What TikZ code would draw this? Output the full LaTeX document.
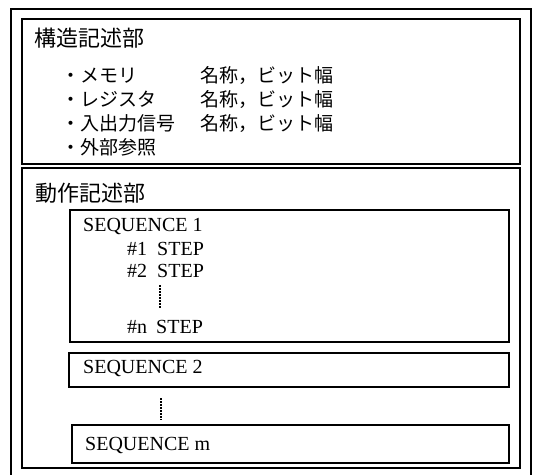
\documentclass[tikz,border=0pt]{standalone}
\usepackage{fontspec}
\setmainfont{Liberation Serif}
\newfontfamily\jpfont{Noto Sans CJK JP}
\begin{document}
\begin{tikzpicture}[x=1pt,y=-1pt,
  frame/.style={line width=1.4pt},
  jtitle/.style={anchor=base west,inner sep=0pt,font=\jpfont\fontsize{22}{22}\selectfont},
  jitem/.style={anchor=base west,inner sep=0pt,font=\jpfont\fontsize{19}{19}\selectfont},
  latin/.style={anchor=base west,inner sep=0pt,font=\fontsize{20}{20}\selectfont},
  vdots/.style={line width=1.7pt,dash pattern=on 1.5pt off 1.5pt}]
\useasboundingbox (0,0) rectangle (538,474);
% outer frame (bottom edge cut off)
\draw[frame] (11,480) -- (11,9) -- (531,9) -- (531,480);
% structure section
\draw[frame] (22,19) rectangle (520,164);
\node[jtitle] (t1) at (34,46) {構造記述部};
\node[jitem] (i1) at (61,82) {・メモリ};
\node[jitem] (i2) at (61,106) {・レジスタ};
\node[jitem] (i3) at (61,130) {・入出力信号};
\node[jitem] (i4) at (61,154) {・外部参照};
\node[jitem] (v1) at (200,82) {名称，ビット幅};
\node[jitem] (v2) at (200,106) {名称，ビット幅};
\node[jitem] (v3) at (200,130) {名称，ビット幅};
% behaviour section
\draw[frame] (22,168) rectangle (520,468);
\node[jtitle] (t2) at (35,201) {動作記述部};
% sequence 1
\draw[frame] (70,210) rectangle (509,342);
\node[latin] (s1) at (83,231) {SEQUENCE 1};
\node[latin] (st1) at (127,255) {\#1\hspace{10pt}STEP};
\node[latin] (st2) at (127,277) {\#2\hspace{10pt}STEP};
\draw[vdots] (160,285) -- (160,308);
\node[latin] (stn) at (127,333) {\#n\hspace{9pt}STEP};
% sequence 2
\draw[frame] (69,353) rectangle (509,387);
\node[latin] (s2) at (83,373) {SEQUENCE 2};
\draw[vdots] (161,398) -- (161,420);
% sequence m
\draw[frame] (72,425) rectangle (509,463);
\node[latin] (sm) at (85,450) {SEQUENCE m};
\end{tikzpicture}
\end{document}
